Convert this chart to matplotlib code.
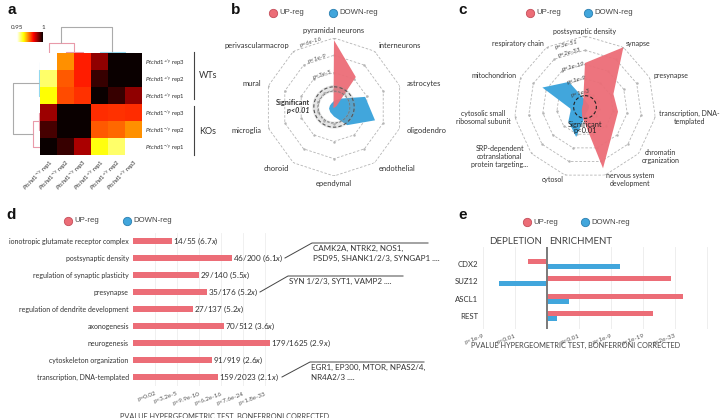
import numpy as np
import matplotlib
matplotlib.use('Agg')
import matplotlib.pyplot as plt

plt.rcParams['font.family'] = ['Lato', 'DejaVu Sans']
plt.rcParams['mathtext.fontset'] = 'custom'
plt.rcParams['mathtext.rm'] = 'Lato'
plt.rcParams['mathtext.it'] = 'Lato:italic'
plt.rcParams['mathtext.bf'] = 'Lato:bold'

# ---------------- data ----------------
# panel a : correlation heatmap
row_labels = [r'$\mathit{Ptchd1}^{+/y}$ rep3', r'$\mathit{Ptchd1}^{+/y}$ rep2', r'$\mathit{Ptchd1}^{+/y}$ rep1',
              r'$\mathit{Ptchd1}^{-/y}$ rep3', r'$\mathit{Ptchd1}^{-/y}$ rep2', r'$\mathit{Ptchd1}^{-/y}$ rep1']
col_labels = [r'$\mathit{Ptchd1}^{-/y}$ rep1', r'$\mathit{Ptchd1}^{-/y}$ rep2', r'$\mathit{Ptchd1}^{-/y}$ rep3',
              r'$\mathit{Ptchd1}^{+/y}$ rep1', r'$\mathit{Ptchd1}^{+/y}$ rep2', r'$\mathit{Ptchd1}^{+/y}$ rep3']
corr = np.array([
    [0.950, 0.971, 0.9795, 0.990, 1.000, 1.000],
    [0.9575, 0.975, 0.9795, 0.9965, 1.000, 1.000],
    [0.9625, 0.976, 0.978, 1.000, 0.9965, 0.990],
    [0.989, 1.000, 1.000, 0.9785, 0.978, 0.9785],
    [0.9955, 1.000, 1.000, 0.975, 0.974, 0.971],
    [1.000, 0.9965, 0.988, 0.962, 0.9575, 0.950],
])
# dendrogram merges (leaf a, leaf b, height), new ids start at 6
col_link = [(1, 2, 0.08), (0, 6, 1.0), (4, 5, 0.05), (3, 8, 0.12), (7, 9, 2.7)]
row_link = [(0, 1, 0.05), (2, 6, 0.12), (3, 4, 0.08), (5, 8, 0.7), (7, 9, 2.7)]
col_link_colors = ['#e99aa9', '#e99aa9', '#93d8ee', '#93d8ee', '#ababab']
row_link_colors = ['#93d8ee', '#93d8ee', '#e99aa9', '#e99aa9', '#ababab']

# panel b : cell-type radar
cell_types = ['pyramidal neurons', 'interneurons', 'astrocytes', 'oligodendro', 'endothelial',
              'ependymal', 'choroid', 'microglia', 'mural', 'perivascularmacrop']
b_up = [3.87, 2.15, 0.15, 0.05, 0.05, 0.05, 0.05, 0.05, 0.05, 0.05]
b_down = [0.35, 0.6, 1.9, 2.5, 1.3, 0.55, 0.37, 0.3, 0.25, 0.25]
b_ring_labels = ['p<3e-5', 'p<1e-9', 'p<6e-16']

# panel c : GO radar
go_terms = ['postsynaptic density', 'synapse', 'presynapse', 'transcription, DNA-\ntemplated',
            'chromatin\norganization', 'nervous system\ndevelopment', 'cytosol',
            'SRP-dependent\ncotranslational\nprotein targeting...', 'cytosolic small\nribosomal subunit',
            'mitochondrion', 'respiratory chain']
c_up = [3.1, 5.0, 2.2, 2.35, 2.6, 4.5, 0.7, 0.3, 0.2, 0.2, 0.25]
c_down = [0.5, 0.3, 0.3, 0.3, 0.3, 0.4, 2.2, 1.55, 1.0, 3.3, 2.1]
c_ring_labels = ['p<1e-3', 'p<1e-9', 'p<1e-19', 'p<2e-33', 'p<3e-51']

# panel d : enrichment bars
d_terms = ['ionotropic glutamate receptor complex', 'postsynaptic density', 'regulation of synaptic plasticity',
           'presynapse', 'regulation of dendrite development', 'axonogenesis', 'neurogenesis',
           'cytoskeleton organization', 'transcription, DNA-templated']
d_scores = [1.77, 4.5, 3.0, 3.36, 2.73, 4.14, 6.23, 3.6, 3.86]
d_counts = ['14/55', '46/200', '29/140', '35/176', '27/137', '70/512', '179/1625', '91/919', '159/2023']
d_folds = ['6.7x', '6.1x', '5.5x', '5.2x', '5.2x', '3.6x', '2.9x', '2.6x', '2.1x']
d_tick_labels = ['p=0.02', 'p<3.2e-5', 'p<9.9e-10', 'p<6.2e-16', 'p<7.6e-24', 'p<1.8e-33']
d_genes = {1: 'CAMK2A, NTRK2, NOS1,\nPSD95, SHANK1/2/3, SYNGAP1 ....',
           3: 'SYN 1/2/3, SYT1, VAMP2 ....',
           8: 'EGR1, EP300, MTOR, NPAS2/4,\nNR4A2/3 ....'}

# panel e : TF targets
e_tfs = ['CDX2', 'SUZ12', 'ASCL1', 'REST']
e_up = [-0.6, 3.88, 4.25, 3.31]
e_down = [2.28, -1.5, 0.69, 0.31]
e_ticks = [-2, -1, 1, 2, 3, 4, 5]
e_tick_labels = ['p<1e-9', 'p<0.01', 'p<0.01', 'p<1e-9', 'p<1e-19', 'p<2e-33', '']

RED = '#ec6d77'
BLUE = '#41a6dc'
TXT = '#333333'

W, H = 720, 418
fig = plt.figure(figsize=(7.2, 4.18), dpi=100)


def add_ax(x0, y0, x1, y1, **kw):
    ax = fig.add_axes([x0 / W, 1 - y1 / H, (x1 - x0) / W, (y1 - y0) / H], **kw)
    ax.patch.set_alpha(0)
    return ax


def draw_dendro(ax, links, colors, orient):
    pos = {i: float(i) for i in range(6)}
    hgt = {i: 0.0 for i in range(6)}
    for k, ((a, b, h), c) in enumerate(zip(links, colors)):
        xs = [pos[a], pos[a], pos[b], pos[b]]
        ys = [hgt[a], h, h, hgt[b]]
        if orient == 'top':
            ax.plot(xs, ys, color=c, lw=0.8, solid_capstyle='butt')
        else:
            ax.plot(ys, xs, color=c, lw=0.8, solid_capstyle='butt')
        pos[6 + k] = (pos[a] + pos[b]) / 2
        hgt[6 + k] = h


# ---------------- panel a ----------------
axa = add_ax(40, 53, 142, 155)
im = axa.imshow(corr, cmap='hot_r', vmin=0.95, vmax=1.0, aspect='auto', interpolation='nearest')
axa.set_xticks(range(6))
axa.set_xticklabels(col_labels, rotation=45, ha='right', rotation_mode='anchor', fontsize=4.3, color=TXT)
axa.set_yticks(range(6))
axa.yaxis.tick_right()
axa.set_yticklabels(row_labels, fontsize=4.3, color=TXT)
axa.tick_params(length=0, pad=2)
for s in axa.spines.values():
    s.set_visible(False)

axt = add_ax(40, 20, 142, 53)
draw_dendro(axt, col_link, col_link_colors, 'top')
axt.set_xlim(-0.5, 5.5)
axt.set_ylim(0, 3.44)
axt.axis('off')

axl = add_ax(8, 53, 40, 155)
draw_dendro(axl, row_link, row_link_colors, 'left')
axl.set_ylim(5.5, -0.5)
axl.set_xlim(3.2, 0)
axl.axis('off')

cax = add_ax(17, 32, 43, 42)
cb = fig.colorbar(im, cax=cax, orientation='horizontal')
cb.outline.set_visible(False)
cb.set_ticks([0.95, 1.0])
cb.set_ticklabels(['0.95', '1'])
cax.xaxis.set_ticks_position('top')
cax.tick_params(length=0, pad=1.5, labelsize=4.5, labelcolor=TXT)


# ---------------- radar helper ----------------
def radar(cx, cy, rpx, rmax, cats, up, down, label_r, fs):
    ax = add_ax(cx - rpx, cy - rpx, cx + rpx, cy + rpx, projection='polar')
    ax.set_theta_zero_location('N')
    ax.set_theta_direction(-1)
    ax.set_ylim(0, rmax)
    ax.set_axis_off()
    n = len(cats)
    th = np.arange(n) * 2 * np.pi / n
    thc = np.append(th, th[0])
    for k in range(1, rmax + 1):
        ax.plot(thc, [k] * (n + 1), ls=(0, (3, 2)), color='#b5b5b5', lw=0.6, zorder=1)
        ax.plot(th, [k] * n, ls='none', marker='.', ms=1.5, color='#b5b5b5', zorder=1)
    ax.fill(thc, np.append(down, down[0]), color=BLUE, lw=0, zorder=2)
    ax.fill(thc, np.append(up, up[0]), color=RED, lw=0, zorder=3, alpha=0.95)
    for t, lab in zip(th, cats):
        s = np.sin(t)
        ha = 'center' if abs(s) < 0.1 else ('left' if s > 0 else 'right')
        ax.text(t, label_r, lab, ha=ha, va='center', fontsize=fs, color=TXT, multialignment='center')
    return ax


# ---------------- panel b ----------------
axb = radar(334, 107, 69, 4, cell_types, b_up, b_down, 4.42, 5.4)
circ = np.linspace(0, 2 * np.pi, 200)
axb.plot(circ, [1.05] * 200, color='#999999', lw=5, alpha=0.25, zorder=4)
axb.plot(circ, [0.92] * 200, color='#777777', lw=0.6, ls=(0, (3, 2)), zorder=5)
axb.plot(circ, [1.17] * 200, color='#555555', lw=0.8, ls=(0, (3, 2)), zorder=5)
for k, lab in enumerate(b_ring_labels):
    axb.text(np.deg2rad(-19), k + 2, lab, ha='center', va='center', fontsize=4.6, style='italic',
             color='#555555', rotation=18, zorder=6)

# ---------------- panel c ----------------
axc = radar(585, 107, 71, 5, go_terms, c_up, c_down, 5.3, 5.0)
axc.plot(circ, [0.8] * 200, color='#222222', lw=0.8, ls=(0, (3, 2)), zorder=5)
for k, lab in enumerate(c_ring_labels):
    axc.text(np.deg2rad(-16), k + 1 if k < 4 else 4.6, lab, ha='center', va='center', fontsize=4.6,
             style='italic', color='#444444', rotation=15, zorder=6)

# ---------------- panel d ----------------
axd = add_ax(133, 232.5, 133 + 22 * 7, 385.5)
yd = np.arange(len(d_terms))
axd.barh(yd, d_scores, height=0.4, color=RED, zorder=2)
axd.set_xlim(0, 7)
axd.set_ylim(len(d_terms) - 0.5, -0.5)
axd.set_yticks(yd)
axd.set_yticklabels(d_terms, fontsize=5.0, color=TXT)
axd.set_xticks(range(1, 7))
axd.set_xticklabels(d_tick_labels, rotation=20, ha='right', rotation_mode='anchor', fontsize=4.5, color='#555555')
axd.tick_params(length=0)
axd.tick_params(axis='y', pad=3)
axd.tick_params(axis='x', pad=4)
axd.grid(axis='x', color='#eeeeee', lw=0.6, zorder=0)
for s in axd.spines.values():
    s.set_visible(False)
for i, (v, cnt, fo) in enumerate(zip(d_scores, d_counts, d_folds)):
    axd.text(v + 0.03, i, cnt + r' $\mathit{(' + fo + r')}$', va='center', ha='left', fontsize=5.9,
             color=TXT, clip_on=False)

# ---------------- panel e ----------------
axe = add_ax(547 - 2.1 * 32, 247, 547 + 5.2 * 32, 329)
ye = np.arange(len(e_tfs))
axe.barh(ye - 0.145, e_up, height=0.29, color=RED, zorder=2)
axe.barh(ye + 0.145, e_down, height=0.29, color=BLUE, zorder=2)
axe.axvline(0, color='#7a7a7a', lw=1.4, zorder=3)
axe.set_xlim(-2.1, 5.2)
axe.set_ylim(3.76, -1.0)
axe.set_yticks(ye)
axe.set_yticklabels(e_tfs, fontsize=5.6, color=TXT)
axe.set_xticks(e_ticks)
axe.set_xticklabels(e_tick_labels, rotation=20, ha='right', rotation_mode='anchor', fontsize=4.6, color='#555555')
axe.tick_params(length=0)
axe.tick_params(axis='y', pad=1)
axe.tick_params(axis='x', pad=3)
axe.grid(axis='x', color='#ebebeb', lw=0.6, zorder=0)
for s in axe.spines.values():
    s.set_visible(False)

# ---------------- overlay: labels, legends, brackets ----------------
ov = add_ax(0, 0, W, H)
ov.set_xlim(0, W)
ov.set_ylim(H, 0)
ov.axis('off')
ov.set_zorder(10)

for lab, x, y in [('a', 8, 10), ('b', 231, 10), ('c', 458, 10), ('d', 6, 215), ('e', 458, 215)]:
    ov.text(x, y, lab, fontsize=11, fontweight='bold', family='Liberation Sans', va='center', ha='left',
            color='#111111')

# brackets in a
ov.plot([194, 194], [52, 99], color='#444444', lw=0.8)
ov.plot([194, 194], [106, 155], color='#444444', lw=0.8)
ov.text(199, 76, 'WTs', fontsize=6.5, va='center', color=TXT)
ov.text(199, 131, 'KOs', fontsize=6.5, va='center', color=TXT)


def legend(x_up, x_down, y):
    for x, fc, ec, lab in [(x_up, RED, '#c44d5a', 'UP-reg'), (x_down, BLUE, '#2a7eb0', 'DOWN-reg')]:
        ov.plot([x], [y], marker='o', ms=6, mfc=fc, mec=ec, mew=0.6, ls='none')
        ov.text(x + 6.5, y, lab, fontsize=5.6, va='center', ha='left', family='Liberation Sans', color='#444444')


legend(273, 333, 13)
legend(530, 588, 13)
legend(68, 127, 221)
legend(527, 585, 222)

# significance labels
ov.text(310, 103, 'Significant', fontsize=5.2, fontweight='bold', ha='right', va='center', color='#333333')
ov.text(310, 111, 'p<0.01', fontsize=5.2, fontweight='bold', style='italic', ha='right', va='center',
        color='#333333')
ov.text(585, 124, 'Significant', fontsize=5.4, ha='center', va='center', color='#222222')
ov.text(585, 131, 'p<0.01', fontsize=5.4, ha='center', va='center', color='#222222')

# gene call-outs in d
lead = {1: [(285, 258), (312, 243), (428, 243)],
        3: [(260, 292), (288, 276), (403, 276)],
        8: [(282, 377), (310, 362), (424, 362)]}
for k, pts in lead.items():
    xs, ys = zip(*pts)
    ov.plot(xs, ys, color='#444444', lw=0.7)
    ov.text(pts[1][0] + 1, pts[1][1] + 2, d_genes[k], fontsize=5.8, va='top', ha='left', color=TXT,
            linespacing=1.45)

ov.text(225, 416, 'PVALUE HYPERGEOMETRIC TEST, BONFERRONI CORRECTED', fontsize=5.3, ha='center', va='center',
        color='#444444')
ov.text(576, 345, 'PVALUE HYPERGEOMETRIC TEST, BONFERRONI CORRECTED', fontsize=5.3, ha='center', va='center',
        color='#444444')
ov.text(516, 242, 'DEPLETION', fontsize=7, ha='center', va='center', color='#444444')
ov.text(581, 242, 'ENRICHMENT', fontsize=7, ha='center', va='center', color='#444444')

fig.savefig('out.png', dpi=100)
